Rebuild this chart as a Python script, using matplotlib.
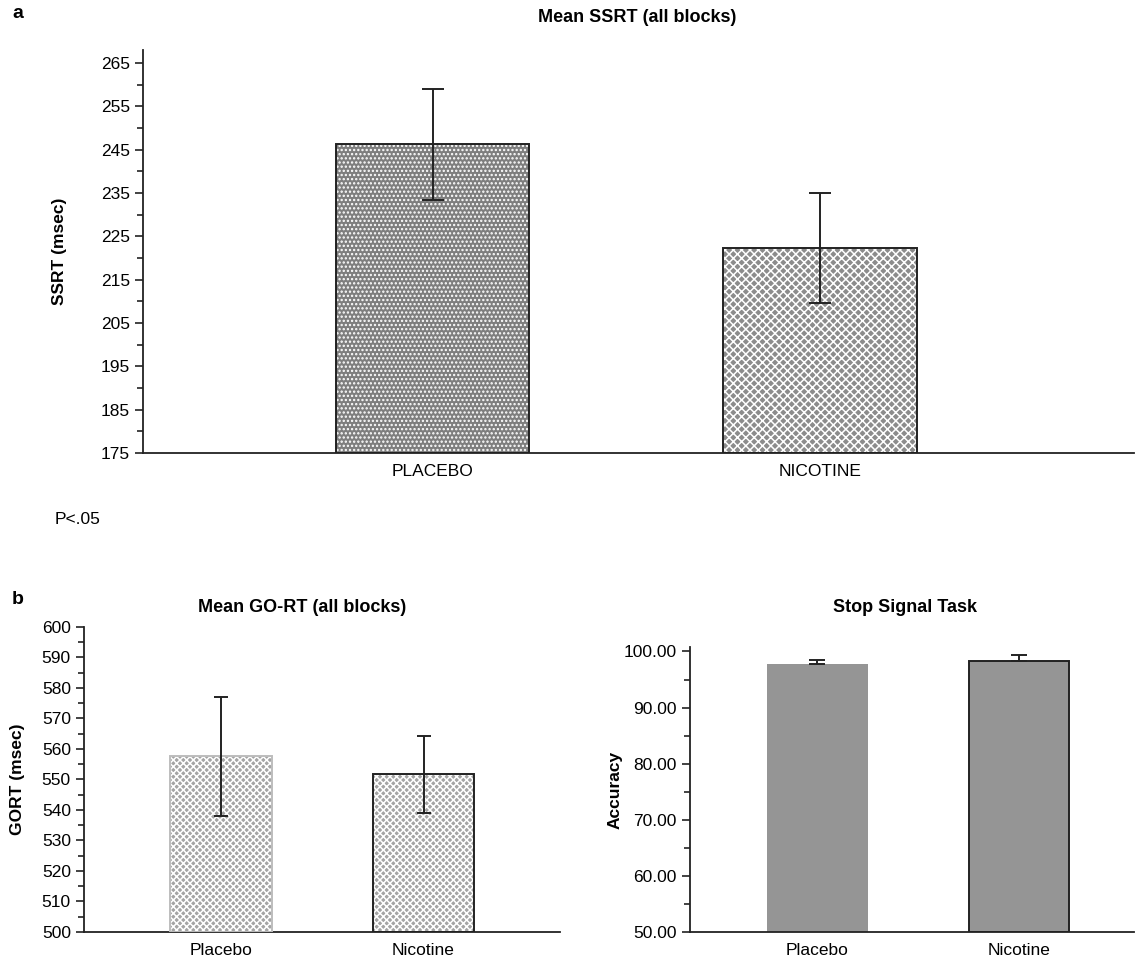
import numpy as np
import matplotlib
matplotlib.use("Agg")
import matplotlib.pyplot as plt
from matplotlib.ticker import MultipleLocator, FormatStrFormatter

plt.rcParams['font.family'] = ['Liberation Sans', 'DejaVu Sans']
plt.rcParams['hatch.linewidth'] = 1.1

# data
ssrt_groups = ['PLACEBO', 'NICOTINE']
ssrt_mean = [246.3, 222.4]
ssrt_err = [12.8, 12.7]

gort_groups = ['Placebo', 'Nicotine']
gort_mean = [557.6, 551.7]
gort_err = [19.5, 12.7]

acc_groups = ['Placebo', 'Nicotine']
acc_mean = [97.7, 98.35]
acc_err = [0.85, 1.1]

W, H = 1136, 958
fig = plt.figure(figsize=(W / 100, H / 100), dpi=100)


def px_axes(left, top, right, bottom):
    return fig.add_axes([left / W, 1 - bottom / H, (right - left) / W, (bottom - top) / H])


def style(ax):
    for s in ['top', 'right']:
        ax.spines[s].set_visible(False)
    for s in ['left', 'bottom']:
        ax.spines[s].set_linewidth(1.3)
        ax.spines[s].set_color('#222222')
    ax.tick_params(axis='x', length=0, labelsize=12.5, pad=8)
    ax.tick_params(axis='y', which='major', length=6, width=1.2, labelsize=12.5, color='#222222')
    ax.tick_params(axis='y', which='minor', length=4, width=1.2, color='#222222')


def title_px(x, y, s):
    fig.text(x / W, 1 - y / H, s, fontsize=13, fontweight='bold', ha='center', va='center')


# panel a
ax1 = px_axes(143, 50, 1134, 453)
x1 = np.arange(len(ssrt_groups))
ax1.bar(x1[0], ssrt_mean[0] - 175, 0.5, bottom=175, color='#7e7e7e', hatch='....',
        edgecolor='white', linewidth=0, zorder=2)
ax1.bar(x1[1], ssrt_mean[1] - 175, 0.5, bottom=175, color='#8c8c8c', hatch='xxxx',
        edgecolor='white', linewidth=0, zorder=2)
for xi, v in zip(x1, ssrt_mean):
    ax1.bar(xi, v - 175, 0.5, bottom=175, fill=False, edgecolor='#222222', linewidth=1.4, zorder=3)
ax1.errorbar(x1, ssrt_mean, yerr=ssrt_err, fmt='none', ecolor='#222222',
             elinewidth=1.4, capsize=8, capthick=1.4, zorder=4)
ax1.set_xlim(-0.747, 1.81)
ax1.set_ylim(175, 268)
ax1.set_yticks(np.arange(175, 266, 10))
ax1.yaxis.set_minor_locator(MultipleLocator(5))
ax1.set_xticks(x1)
ax1.set_xticklabels(ssrt_groups)
ax1.set_ylabel('SSRT (msec)', fontsize=12.5, fontweight='bold', labelpad=24)
style(ax1)
title_px(637, 18, 'Mean SSRT (all blocks)')

# panel b left
ax2 = px_axes(84, 627, 560, 932)
x2 = np.arange(len(gort_groups))
ax2.bar(x2, np.array(gort_mean) - 500, 0.5, bottom=500, color='#a4a4a4', hatch='xxxxx',
        edgecolor='white', linewidth=0, zorder=2)
ax2.bar(x2[0], gort_mean[0] - 500, 0.5, bottom=500, fill=False, edgecolor='#bdbdbd', linewidth=1.4, zorder=3)
ax2.bar(x2[1], gort_mean[1] - 500, 0.5, bottom=500, fill=False, edgecolor='#222222', linewidth=1.4, zorder=3)
ax2.errorbar(x2, gort_mean, yerr=gort_err, fmt='none', ecolor='#222222',
             elinewidth=1.4, capsize=5, capthick=1.4, zorder=4)
ax2.set_xlim(-0.677, 1.674)
ax2.set_ylim(500, 600)
ax2.set_yticks(np.arange(500, 601, 10))
ax2.yaxis.set_minor_locator(MultipleLocator(5))
ax2.set_xticks(x2)
ax2.set_xticklabels(gort_groups)
ax2.set_ylabel('GORT (msec)', fontsize=12.5, fontweight='bold', labelpad=12)
style(ax2)
title_px(302, 607, 'Mean GO-RT (all blocks)')

# panel b right
ax3 = px_axes(690, 647, 1134, 932)
x3 = np.arange(len(acc_groups))
ax3.bar(x3[0], acc_mean[0] - 50, 0.5, bottom=50, color='#959595', edgecolor='#959595', linewidth=0, zorder=2)
ax3.bar(x3[1], acc_mean[1] - 50, 0.5, bottom=50, color='#959595', edgecolor='#222222', linewidth=1.4, zorder=2)
ax3.errorbar(x3, acc_mean, yerr=[np.zeros(len(acc_err)), acc_err], fmt='none', ecolor='#222222',
             elinewidth=1.4, capsize=6, capthick=1.4, zorder=4)
ax3.set_xlim(-0.63, 1.57)
ax3.set_ylim(50, 100.8)
ax3.set_yticks(np.arange(50, 101, 10))
ax3.yaxis.set_minor_locator(MultipleLocator(5))
ax3.yaxis.set_major_formatter(FormatStrFormatter('%.2f'))
ax3.set_xticks(x3)
ax3.set_xticklabels(acc_groups)
ax3.set_ylabel('Accuracy', fontsize=12.5, fontweight='bold', labelpad=1)
style(ax3)
title_px(905, 607, 'Stop Signal Task')

fig.text(12 / W, 1 - 14 / H, 'a', fontsize=14, fontweight='bold', va='center')
fig.text(12 / W, 1 - 600 / H, 'b', fontsize=14, fontweight='bold', va='center')
fig.text(55 / W, 1 - 520 / H, 'P<.05', fontsize=12.5, va='center')

fig.savefig('out.png', dpi=100)
